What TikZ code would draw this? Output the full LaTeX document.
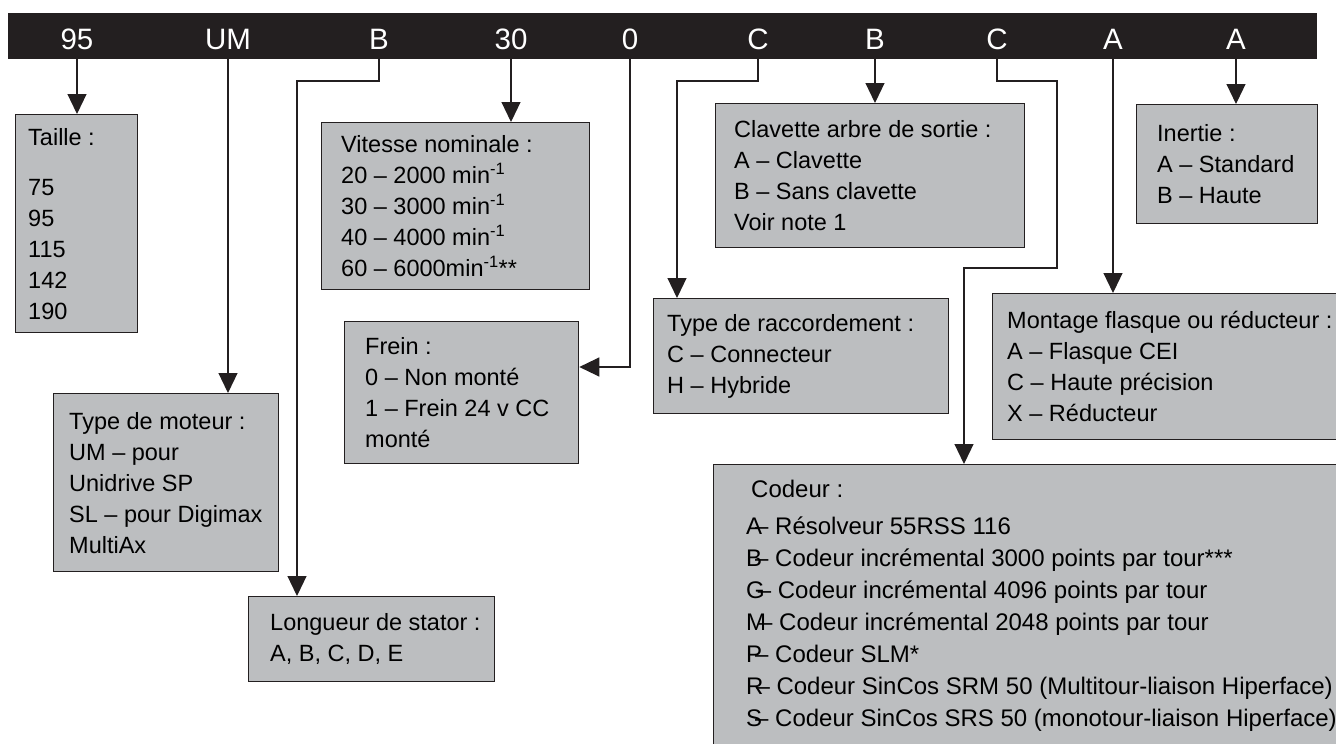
\documentclass[tikz,border=0pt]{standalone}
\usepackage{fontspec}
\setmainfont{Liberation Sans}
\usetikzlibrary{arrows.meta}
\newcommand\codl[1]{#1\kern-7pt–}

\begin{document}
\begin{tikzpicture}[x=1pt, y=-1pt,
  fiche/.style={draw=trait, fill=gris, line width=1.3pt, anchor=north west, inner sep=0pt},
  texte/.style={anchor=west, inner sep=0pt, align=left, font=\fontsize{23.5}{31}\selectfont},
  repere/.style={anchor=base, text=white, inner sep=0pt, font=\fontsize{29.5}{29.5}\selectfont},
  fleche/.style={draw=trait, line width=1.2pt, -{Triangle[width=19pt,length=20pt]}}]
\definecolor{trait}{HTML}{231F20}
\definecolor{gris}{HTML}{BCBEC0}
\useasboundingbox (0,0) rectangle (1336,744);

% barre de reference
\node[fill=trait, inner sep=0pt, minimum width=1309pt, minimum height=46pt, anchor=north west] (bar) at (8,13) {};
\node[repere] (c95) at (77,49) {95};
\node[repere] (cum) at (228,49) {UM};
\node[repere] (cb) at (379,49) {B};
\node[repere] (c30) at (511,49) {30};
\node[repere] (c0) at (630,49) {0};
\node[repere] (cc) at (758,49) {C};
\node[repere] (cb2) at (875,49) {B};
\node[repere] (cc2) at (997,49) {C};
\node[repere] (ca) at (1113,49) {A};
\node[repere] (ca2) at (1236,49) {A};

% cases
\node[fiche, minimum width=122pt, minimum height=218pt] (taille) at (15,114) {};
\node[texte] (tailleT) at ([xshift=13pt]taille.west) {Taille :\\[19pt]75\\95\\115\\142\\190};
\node[fiche, minimum width=268pt, minimum height=167pt] (vitesse) at (321,122) {};
\node[texte] (vitesseT) at ([xshift=20pt]vitesse.west) {Vitesse nominale :\\20 – 2000 min\textsuperscript{-1}\\30 – 3000 min\textsuperscript{-1}\\40 – 4000 min\textsuperscript{-1}\\60 – 6000min\textsuperscript{-1}**};
\node[fiche, minimum width=234pt, minimum height=142pt] (frein) at (344,321) {};
\node[texte] (freinT) at ([xshift=21pt]frein.west) {Frein :\\0 – Non monté\\1 – Frein 24 v CC\\monté};
\node[fiche, minimum width=225pt, minimum height=178pt] (moteur) at (53,393) {};
\node[texte] (moteurT) at ([xshift=16pt]moteur.west) {Type de moteur :\\UM – pour\\Unidrive SP\\SL – pour Digimax\\MultiAx};
\node[fiche, minimum width=246pt, minimum height=85pt] (longueur) at (248,596) {};
\node[texte] (longueurT) at ([xshift=22pt]longueur.west) {Longueur de stator :\\A, B, C, D, E};
\node[fiche, minimum width=309pt, minimum height=144pt] (clavette) at (715,103) {};
\node[texte] (clavetteT) at ([xshift=19pt]clavette.west) {Clavette arbre de sortie :\\A – Clavette\\B – Sans clavette\\Voir note 1};
\node[fiche, minimum width=295pt, minimum height=115pt] (raccord) at (653,298) {};
\node[texte] (raccordT) at ([xshift=14pt]raccord.west) {Type de raccordement :\\C – Connecteur\\H – Hybride};
\node[fiche, minimum width=181pt, minimum height=119pt] (inertie) at (1136,104) {};
\node[texte] (inertieT) at ([xshift=21pt]inertie.west) {Inertie :\\A – Standard\\B – Haute};
\node[fiche, minimum width=360pt, minimum height=146pt] (montage) at (992,293) {};
\node[texte] (montageT) at ([xshift=15pt]montage.west) {Montage flasque ou réducteur :\\A – Flasque CEI\\C – Haute précision\\X – Réducteur};
\node[fiche, minimum width=640pt, minimum height=282pt] (codeur) at (713,464) {};
\node[texte, font=\fontsize{24}{32}\selectfont] (codeurT) at ([xshift=33pt]codeur.west) {\hspace*{5pt}Codeur :\\[5pt]\codl{A} Résolveur 55RSS 116\\\codl{B} Codeur incrémental 3000 points par tour***\\\codl{G} Codeur incrémental 4096 points par tour\\\codl{M} Codeur incrémental 2048 points par tour\\\codl{P} Codeur SLM*\\\codl{R} Codeur SinCos SRM 50 (Multitour-liaison Hiperface)\\\codl{S} Codeur SinCos SRS 50 (monotour-liaison Hiperface)};

% liaisons
\coordinate (kb) at (297,81);
\coordinate (k0) at (630,367);
\coordinate (kc) at (677,81);
\coordinate (kc2a) at (1057,81);
\coordinate (kc2b) at (964,268);
\draw[fleche] (c95 |- bar.south) -- (c95 |- taille.north);
\draw[fleche] (cum |- bar.south) -- (cum |- moteur.north);
\draw[fleche] (cb |- bar.south) |- (kb) -- (kb |- longueur.north);
\draw[fleche] (c30 |- bar.south) -- (c30 |- vitesse.north);
\draw[fleche] (c0 |- bar.south) -- (k0) -- (k0 -| frein.east);
\draw[fleche] (cc |- bar.south) |- (kc) -- (kc |- raccord.north);
\draw[fleche] (cb2 |- bar.south) -- (cb2 |- clavette.north);
\draw[fleche] (cc2 |- bar.south) |- (kc2a) |- (kc2b) -- (kc2b |- codeur.north);
\draw[fleche] (ca |- bar.south) -- (ca |- montage.north);
\draw[fleche] (ca2 |- bar.south) -- (ca2 |- inertie.north);
\end{tikzpicture}
\end{document}
